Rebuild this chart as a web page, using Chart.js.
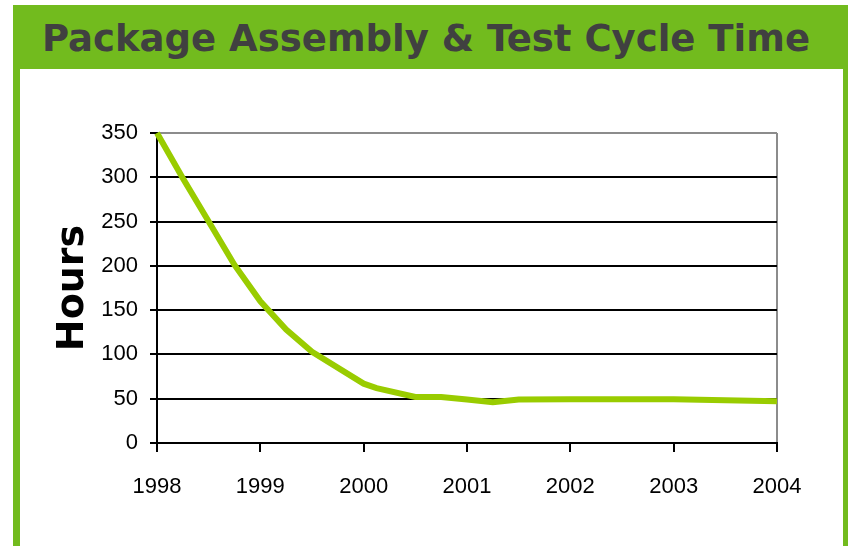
<!DOCTYPE html>
<html>
<head>
<meta charset="utf-8">
<script src="https://cdn.jsdelivr.net/npm/chart.js@4/dist/chart.umd.min.js"></script>
<style>
  html, body { margin: 0; padding: 0; background: #fff; }
  #page { position: relative; width: 848px; height: 546px; overflow: hidden; background: #fff; }
  #frame { position: absolute; left: 13px; top: 5px; width: 835px; height: 560px; background: #72bb1e; }
  #inner { position: absolute; left: 20px; top: 69px; width: 823px; height: 500px; background: #fff; }
  #title { position: absolute; left: 42px; top: 15px; white-space: nowrap; transform-origin: 0 0;
           font-family: "DejaVu Sans Condensed", "DejaVu Sans", sans-serif; font-weight: bold;
           font-size: 38px; line-height: 46px; color: #404040; }
  #chart-wrap { position: absolute; left: 0; top: 0; width: 848px; height: 546px; }
</style>
</head>
<body>
<div id="page">
  <div id="frame"></div>
  <div id="inner"></div>
  <div id="title">Package Assembly &amp; Test Cycle Time</div>
  <div id="chart-wrap"><canvas id="cycle-chart" width="848" height="546"></canvas></div>
</div>
<script>
  // cycle time readings (decimal year -> hours)
  const years = [1998, 1998.25, 1998.5, 1998.75, 1999, 1999.25, 1999.5, 2000, 2000.125, 2000.5, 2000.75, 2001, 2001.25, 2001.5, 2002, 2003, 2004];
  const hours = [350, 299, 250, 201, 160, 128, 103, 67, 62, 52, 52, 49, 46, 49, 49.5, 49.5, 47];
  const yearTicks = [1998, 1999, 2000, 2001, 2002, 2003, 2004];
  const hourTicks = [0, 50, 100, 150, 200, 250, 300, 350];

  // squeeze the title to the reference width
  const title = document.getElementById('title');
  const w = title.getBoundingClientRect().width;
  title.style.transform = 'scaleX(' + (768 / w) + ')';

  const points = years.map((x, i) => ({ x: x, y: hours[i] }));

  new Chart(document.getElementById('cycle-chart'), {
    type: 'line',
    data: {
      datasets: [{
        data: points,
        borderColor: '#99cc00',
        borderWidth: 6,
        pointRadius: 0,
        tension: 0,
        clip: 6
      }]
    },
    options: {
      responsive: false,
      animation: false,
      layout: { padding: { left: 50, top: 133, right: 71, bottom: 0 } },
      plugins: { legend: { display: false }, tooltip: { enabled: false } },
      scales: {
        x: {
          type: 'linear',
          min: yearTicks[0],
          max: yearTicks[yearTicks.length - 1],
          afterBuildTicks: scale => { scale.ticks = yearTicks.map(v => ({ value: v })); },
          afterFit: scale => { scale.height = 546 - 443; },
          ticks: {
            color: '#000',
            font: { family: 'Liberation Sans, Arial, sans-serif', size: 22 },
            padding: 22,
            maxRotation: 0,
            callback: v => String(v)
          },
          grid: {
            color: ctx => (ctx.tick && ctx.tick.value === 2004) ? '#8c8c8c' : 'rgba(0,0,0,0)',
            tickColor: '#000',
            lineWidth: 2,
            tickLength: 9
          },
          border: { color: '#000', width: 2 }
        },
        y: {
          min: 0,
          max: 350,
          afterBuildTicks: scale => { scale.ticks = hourTicks.map(v => ({ value: v })); },
          afterFit: scale => { scale.width = 157 - 50; },
          ticks: {
            color: '#000',
            font: { family: 'Liberation Sans, Arial, sans-serif', size: 22 },
            padding: 12
          },
          grid: {
            color: ctx => (ctx.tick && ctx.tick.value === 350) ? '#8c8c8c' : '#000',
            tickColor: '#000',
            lineWidth: 2,
            tickLength: 7
          },
          border: { color: '#000', width: 2 },
          title: {
            display: true,
            text: 'Hours',
            color: '#000',
            font: { family: 'DejaVu Sans, Verdana, sans-serif', size: 38, weight: 'bold' },
            padding: 0
          }
        }
      }
    }
  });
</script>
</body>
</html>
